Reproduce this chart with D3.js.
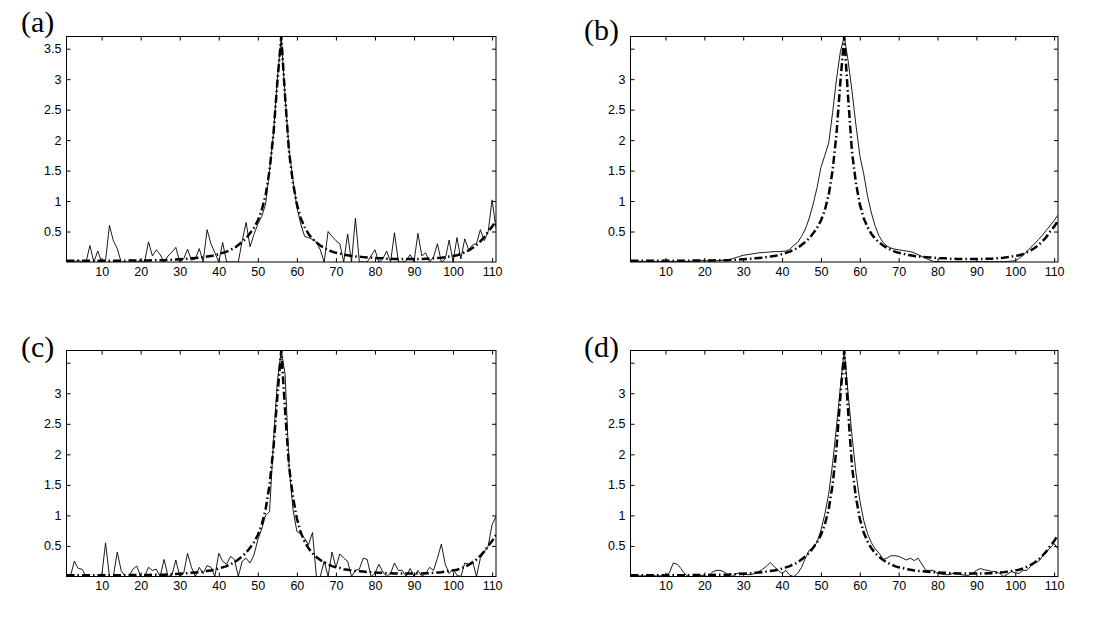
<!DOCTYPE html>
<html>
<head>
<meta charset="utf-8">
<script src="https://cdn.jsdelivr.net/npm/d3@7/dist/d3.min.js"></script>
<style>
  body { margin: 0; background: #fff; }
  svg { display: block; }
</style>
</head>
<body>
<div id="chart"></div>
<script>
// Tick values shared by the four panels
var xTicks = [10, 20, 30, 40, 50, 60, 70, 80, 90, 100, 110];
var yTicks = [0.5, 1, 1.5, 2, 2.5, 3, 3.5];
var yLabelsFull = [0.5, 1, 1.5, 2, 2.5, 3, 3.5];
var yLabelsShort = [0.5, 1, 1.5, 2, 2.5, 3];

// True spectrum (dash-dot), samples 1..111, same in every panel
var trueSpectrum = [
  0.02, 0.02, 0.02, 0.02, 0.02, 0.02, 0.02, 0.02, 0.02, 0.02,
  0.02, 0.02, 0.02, 0.02, 0.02, 0.02, 0.025, 0.025, 0.025, 0.025,
  0.025, 0.025, 0.03, 0.03, 0.03, 0.03, 0.035, 0.035, 0.04, 0.045,
  0.05, 0.055, 0.06, 0.065, 0.07, 0.08, 0.09, 0.1, 0.11, 0.13,
  0.15, 0.17, 0.2, 0.23, 0.28, 0.33, 0.39, 0.47, 0.56, 0.68,
  0.85, 1.1, 1.5, 2.1, 2.95, 3.7, 2.7, 1.8, 1.3, 0.95,
  0.72, 0.57, 0.46, 0.38, 0.32, 0.27, 0.23, 0.2, 0.17, 0.15,
  0.14, 0.12, 0.11, 0.1, 0.09, 0.085, 0.08, 0.075, 0.07, 0.065,
  0.06, 0.06, 0.055, 0.055, 0.05, 0.05, 0.05, 0.05, 0.05, 0.05,
  0.05, 0.05, 0.055, 0.055, 0.06, 0.065, 0.07, 0.08, 0.09, 0.1,
  0.11, 0.13, 0.16, 0.19, 0.23, 0.28, 0.34, 0.41, 0.5, 0.58, 0.68
];

// Estimates (solid), one per panel
var estimateA = [
  0.02, 0, 0, 0.03, 0, 0, 0.27, 0, 0.18, 0,
  0.02, 0.6, 0.35, 0.22, 0, 0, 0, 0, 0, 0.03,
  0, 0.33, 0.1, 0.2, 0.12, 0, 0.1, 0.16, 0.24, 0,
  0.05, 0.21, 0.03, 0.05, 0.22, 0, 0.53, 0.3, 0.15, 0,
  0.32, 0, 0, 0, 0, 0.35, 0.65, 0.25, 0.45, 0.62,
  0.75, 0.95, 1.5, 2.1, 3.0, 3.7, 2.7, 1.85, 1.35, 0.9,
  0.62, 0.42, 0.4, 0.37, 0.33, 0.2, 0, 0.5, 0.42, 0.35,
  0.3, 0, 0.46, 0, 0.72, 0, 0, 0, 0.1, 0.2,
  0, 0.05, 0.18, 0, 0.48, 0, 0, 0.02, 0.12, 0,
  0.47, 0.1, 0.15, 0, 0.08, 0.3, 0, 0.05, 0.36, 0,
  0.4, 0.05, 0.38, 0.2, 0.28, 0.3, 0.53, 0.35, 0.5, 1.02, 0.55
];

var estimateB = [
  0.01, 0.01, 0.01, 0.01, 0.01, 0.01, 0.01, 0.01, 0.01, 0.01,
  0.01, 0.01, 0.01, 0.01, 0.01, 0.01, 0.015, 0.015, 0.02, 0.02,
  0.02, 0.02, 0.02, 0.025, 0.03, 0.035, 0.05, 0.07, 0.09, 0.11,
  0.12, 0.13, 0.14, 0.15, 0.155, 0.16, 0.165, 0.17, 0.17, 0.175,
  0.18, 0.21, 0.27, 0.32, 0.42, 0.54, 0.72, 0.95, 1.22, 1.55,
  1.75, 1.95, 2.45, 3.0, 3.45, 3.7, 3.3, 2.8, 2.25, 1.75,
  1.45, 1.08, 0.8, 0.58, 0.42, 0.32, 0.26, 0.23, 0.21, 0.2,
  0.19, 0.18, 0.17, 0.15, 0.12, 0.09, 0.06, 0.03, 0.01, 0.005,
  0.005, 0.005, 0.005, 0.005, 0.005, 0.005, 0.005, 0.005, 0.005, 0.005,
  0.005, 0.005, 0.005, 0.005, 0.005, 0.005, 0.005, 0.01, 0.015, 0.02,
  0.06, 0.11, 0.17, 0.24, 0.3, 0.37, 0.44, 0.52, 0.6, 0.68, 0.77
];

var estimateC = [
  0.02, 0, 0.25, 0.13, 0.12, 0, 0, 0, 0, 0,
  0.55, 0, 0, 0.4, 0.1, 0, 0, 0.12, 0.17, 0,
  0, 0.15, 0.1, 0.12, 0, 0.28, 0, 0.02, 0.27, 0,
  0.05, 0.38, 0.15, 0, 0.15, 0.05, 0.18, 0.15, 0, 0.38,
  0.25, 0.2, 0.33, 0.28, 0, 0.25, 0.3, 0.22, 0.35, 0.6,
  0.78, 1.0, 1.06, 2.2, 3.2, 3.7, 3.3, 1.8, 1.1, 0.74,
  0.7, 0.62, 0.52, 0.72, 0, 0, 0.25, 0, 0.4, 0.15,
  0.37, 0.3, 0.25, 0, 0.1, 0.12, 0.3, 0.28, 0, 0.05,
  0.2, 0.08, 0, 0.05, 0.22, 0.1, 0.1, 0, 0.13, 0,
  0.1, 0, 0.05, 0.15, 0.1, 0.3, 0.53, 0.2, 0.05, 0.12,
  0.02, 0, 0.22, 0.2, 0.25, 0, 0.3, 0.4, 0.5, 0.85, 0.98
];

var estimateD = [
  0.01, 0.01, 0.01, 0.01, 0.01, 0.01, 0.01, 0.01, 0.01, 0.02,
  0.06, 0.22, 0.2, 0.13, 0.04, 0, 0, 0.01, 0.02, 0.01,
  0, 0.07, 0.1, 0.1, 0.08, 0.03, 0, 0.04, 0.06, 0.05,
  0.03, 0.03, 0.05, 0.08, 0.12, 0.17, 0.23, 0.16, 0.1, 0.05,
  0.1, 0.02, 0, 0.05, 0.15, 0.3, 0.43, 0.47, 0.56, 0.76,
  1.02, 1.35, 1.85, 2.45, 3.1, 3.7, 3.0, 2.3, 1.7, 1.25,
  0.92, 0.7, 0.55, 0.45, 0.38, 0.28, 0.3, 0.34, 0.34, 0.33,
  0.3, 0.27, 0.3, 0.26, 0.3, 0.2, 0.1, 0.1, 0.1, 0.05,
  0.04, 0.03, 0.03, 0.05, 0.06, 0.03, 0.02, 0.02, 0.05, 0.1,
  0.13, 0.11, 0.1, 0.08, 0.08, 0.05, 0, 0.04, 0.08, 0.06,
  0.05, 0.1, 0.1, 0.17, 0.22, 0.25, 0.33, 0.4, 0.47, 0.54, 0.45
];

var width = 1102, height = 622;

var svg = d3.select("#chart").append("svg")
    .attr("width", width)
    .attr("height", height)
    .style("background", "#fff");

// Panel boxes (pixel frame of each subplot)
var panels = [
  { label: "(a)", est: estimateA, yLabels: yLabelsFull,  x0: 66.5,  x1: 496,  y0: 36.5,  y1: 262, lx: 21,  ly: 32 },
  { label: "(b)", est: estimateB, yLabels: yLabelsShort, x0: 630.5, x1: 1058, y0: 36.5,  y1: 262, lx: 584, ly: 40 },
  { label: "(c)", est: estimateC, yLabels: yLabelsShort, x0: 66.5,  x1: 496,  y0: 350.5, y1: 576.5, lx: 21,  ly: 357 },
  { label: "(d)", est: estimateD, yLabels: yLabelsShort, x0: 630.5, x1: 1058, y0: 350.5, y1: 576.5, lx: 584, ly: 357 }
];

var tickFont = "'Liberation Sans', Arial, sans-serif";

panels.forEach(function (p, i) {
    var x = d3.scaleLinear().domain([1, 111]).range([p.x0, p.x1]);
    var y = d3.scaleLinear().domain([0, 3.7]).range([p.y1, p.y0]);

    var g = svg.append("g");

    // clip so the peaks stop at the frame
    var clipId = "clip" + i;
    svg.append("clipPath").attr("id", clipId)
      .append("rect")
        .attr("x", p.x0).attr("y", p.y0)
        .attr("width", p.x1 - p.x0).attr("height", p.y1 - p.y0);

    var line = d3.line()
        .x(function (d, k) { return x(k + 1); })
        .y(function (d) { return y(d); });

    var plot = g.append("g").attr("clip-path", "url(#" + clipId + ")");

    // true spectrum, thick dash-dot
    plot.append("path")
        .datum(trueSpectrum)
        .attr("d", line)
        .attr("fill", "none")
        .attr("stroke", "#000")
        .attr("stroke-width", 2.5)
        .attr("stroke-dasharray", "8,3,1.5,3");

    // estimate, thin solid
    plot.append("path")
        .datum(p.est)
        .attr("d", line)
        .attr("fill", "none")
        .attr("stroke", "#000")
        .attr("stroke-width", 0.9);

    // axes: ticks point inwards on all four sides
    var bottom = g.append("g")
        .attr("transform", "translate(0," + p.y1 + ")")
        .call(d3.axisBottom(x).tickValues(xTicks).tickSize(-4).tickPadding(5)
            .tickFormat(d3.format("d")));
    var top = g.append("g")
        .attr("transform", "translate(0," + p.y0 + ")")
        .call(d3.axisTop(x).tickValues(xTicks).tickSize(-4).tickFormat(""));
    var left = g.append("g")
        .attr("transform", "translate(" + p.x0 + ",0)")
        .call(d3.axisLeft(y).tickValues(yTicks).tickSize(-4).tickPadding(5)
            .tickFormat(function (d) { return p.yLabels.indexOf(d) >= 0 ? d : ""; }));
    var right = g.append("g")
        .attr("transform", "translate(" + p.x1 + ",0)")
        .call(d3.axisRight(y).tickValues(yTicks).tickSize(-4).tickFormat(""));

    [bottom, top, left, right].forEach(function (a) {
        a.select(".domain").remove();
        a.selectAll("line").attr("stroke", "#000");
        a.selectAll("text")
            .attr("fill", "#000")
            .style("font-family", tickFont)
            .style("font-size", "12.5px");
    });

    // frame
    g.append("rect")
        .attr("x", p.x0).attr("y", p.y0)
        .attr("width", p.x1 - p.x0).attr("height", p.y1 - p.y0)
        .attr("fill", "none")
        .attr("stroke", "#000")
        .attr("stroke-width", 1);

    // panel letter
    svg.append("text")
        .attr("x", p.lx)
        .attr("y", p.ly)
        .style("font-family", "'Liberation Serif', 'Times New Roman', serif")
        .style("font-size", "30px")
        .attr("fill", "#000")
        .text(p.label);
});
</script>
</body>
</html>
